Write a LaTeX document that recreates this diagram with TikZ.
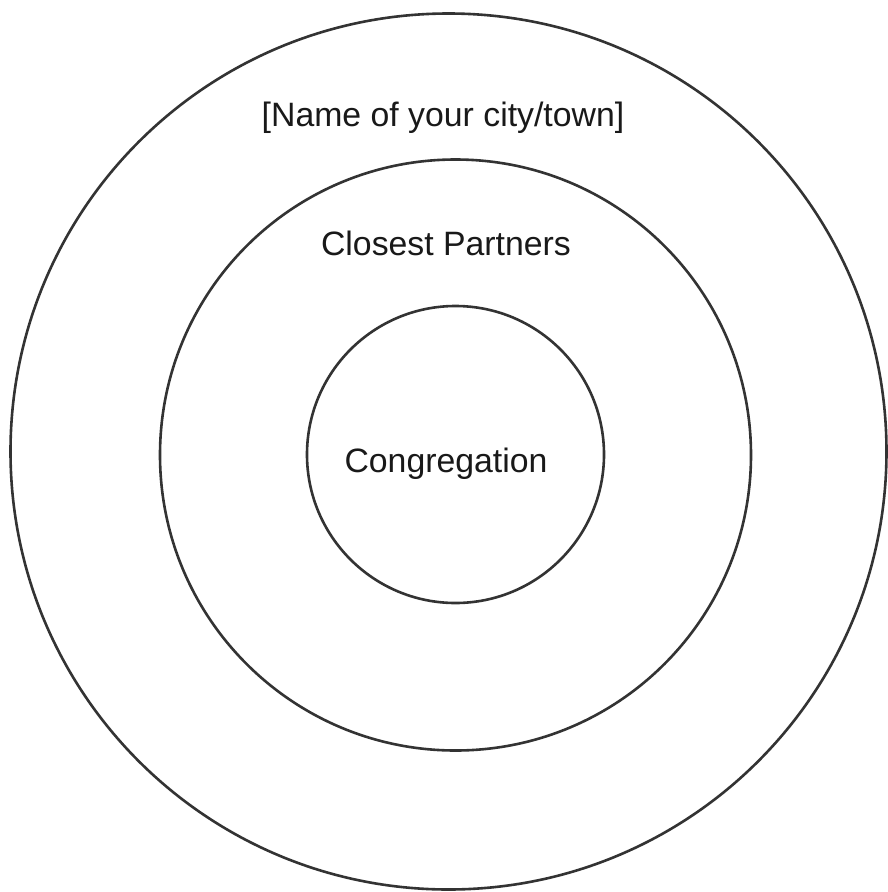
\documentclass[tikz,border=0pt]{standalone}
\usepackage{fontspec}
\setmainfont{Liberation Sans}
\begin{document}
\begin{tikzpicture}[x=1pt,y=-1pt,
  ring/.style={circle,draw=black!80,line width=2.6pt,inner sep=0pt},
  lbl/.style={anchor=base,inner sep=0pt,font=\fontsize{33.8}{38}\selectfont,text=black!90}]
\useasboundingbox[fill=white] (0,0) rectangle (887,892);
\node[ring,minimum size=876pt] (outer) at (448.5,451.5) {};
\node[ring,minimum size=591pt] (middle) at (455.5,455) {};
\node[ring,minimum size=297pt] (inner) at (455.5,454.5) {};
\node[lbl] (city) at (443,126) {[Name of your city/town]};
\node[lbl] (partners) at (446,255) {Closest Partners};
\node[lbl] (cong) at (446,472) {Congregation};
\end{tikzpicture}
\end{document}
